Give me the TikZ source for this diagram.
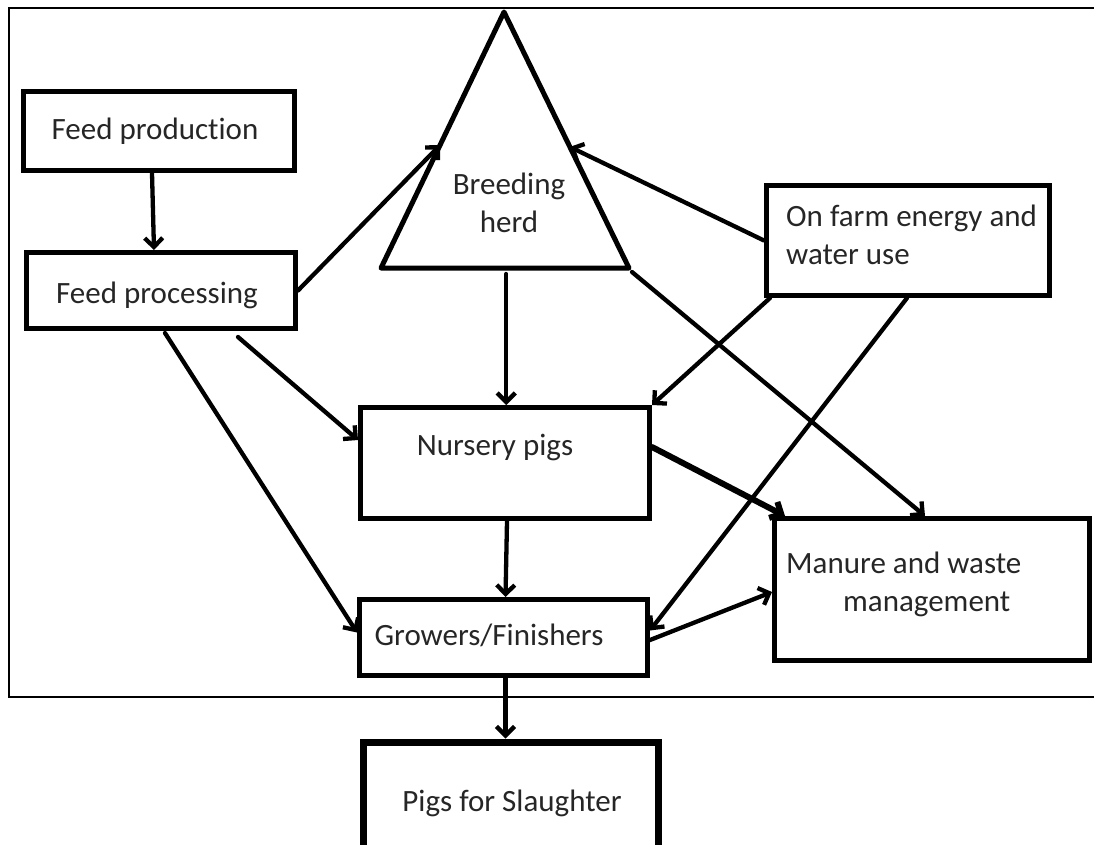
\documentclass[tikz,border=0pt]{standalone}
\usepackage{fontspec}
\setmainfont{Carlito}[Ligatures={NoCommon}]
\usetikzlibrary{arrows.meta,calc}
\begin{document}
\begin{tikzpicture}[x=1pt,y=-1pt,
  box/.style={draw, rectangle, line width=5pt, inner sep=0pt},
  lbl/.style={inner sep=0pt, text=black!85, font=\fontsize{31}{38}\selectfont},
  conn/.style={line width=4.3pt, line cap=round, -{Straight Barb[length=9pt,width=18pt]}},
]
\useasboundingbox (0,0) rectangle (1094,844);

% enclosing frame of the farm
\draw[line width=1.8pt] (1094,8) -- (9,8) -- (9,697) -- (1094,697);

% boxes
\node[box, minimum width=271pt, minimum height=79pt] (fprod) at (159,131) {};
\node[box, minimum width=269pt, minimum height=76pt] (fproc) at (161,290.5) {};
\node[box, minimum width=289pt, minimum height=111pt] (nursery) at (505,463) {};
\node[box, minimum width=288pt, minimum height=76pt] (growers) at (503.5,637.5) {};
\node[box, minimum width=315pt, minimum height=142pt] (manure) at (932,589.5) {};
\node[box, minimum width=283pt, minimum height=110pt] (onfarm) at (908,240.5) {};
\node[box, line width=7pt, minimum width=295pt, minimum height=110pt] (slaughter) at (511,797) {};

% breeding herd triangle
\coordinate (apex) at (504,12);
\coordinate (bl) at (381,268);
\coordinate (br) at (629,268);
\draw[line width=5pt, line join=round] (apex) -- (bl) -- (br) -- cycle;

% labels
\node[lbl] (tfprod) at (155,131) {Feed production};
\node[lbl] (tfproc) at (157,295) {Feed processing};
\node[lbl, align=center] (therd) at (509,202.5) {Breeding\\herd};
\node[lbl, align=left, anchor=west] (tonfarm) at (786,234.5) {On farm energy and\\water use};
\node[lbl] (tnursery) at (495,447) {Nursery pigs};
\node[lbl] (tgrowers) at (489,635) {Growers/Finishers};
\node[lbl, align=left, anchor=west] (tmanure) at (786,584) {Manure and waste\\\hspace*{57pt}management};
\node[lbl] (tslaughter) at (512,803) {Pigs for Slaughter};

% connection points on the triangle
\coordinate (herdL) at ($(apex)!0.52!(bl)$);
\coordinate (herdR) at ($(apex)!0.527!(br)$);
\coordinate (herdB) at ([yshift=-6pt]$(bl)!0.505!(br)$);
\coordinate (herdC) at ([xshift=3pt,yshift=-4pt]br);

% flows
\draw[conn] ([xshift=-7pt]fprod.south) -- ([xshift=-7pt]fproc.north);
\draw[conn] (fproc.east) -- (herdL);
\draw[conn] (onfarm.west) -- (herdR);
\draw[conn] (herdB) -- (herdB |- nursery.north);
\draw[conn] ([xshift=-60pt,yshift=-6pt]fproc.south east) -- ([yshift=23pt]nursery.west);
\draw[conn] ([xshift=4pt,yshift=-2pt]fproc.south) -- ([yshift=5pt]growers.west);
\draw[conn] (herdC) -- ([xshift=-7pt]manure.north);
\draw[conn] ([xshift=6pt]onfarm.south west) -- (nursery.north east);
\draw[conn] ([xshift=-1pt]onfarm.south) -- ([yshift=7pt]growers.east);
\draw[conn, line width=6pt] ([yshift=16pt]nursery.east) -- ([xshift=13pt]manure.north west);
\draw[conn] ([xshift=2pt]nursery.south) -- ([xshift=2pt]growers.north);
\draw[conn] ([yshift=-2.5pt]growers.east) -- ([yshift=-2.5pt]manure.west);
\draw[conn] ([xshift=2pt]growers.south) -- ([xshift=2pt]growers.south |- slaughter.north);
\end{tikzpicture}
\end{document}
